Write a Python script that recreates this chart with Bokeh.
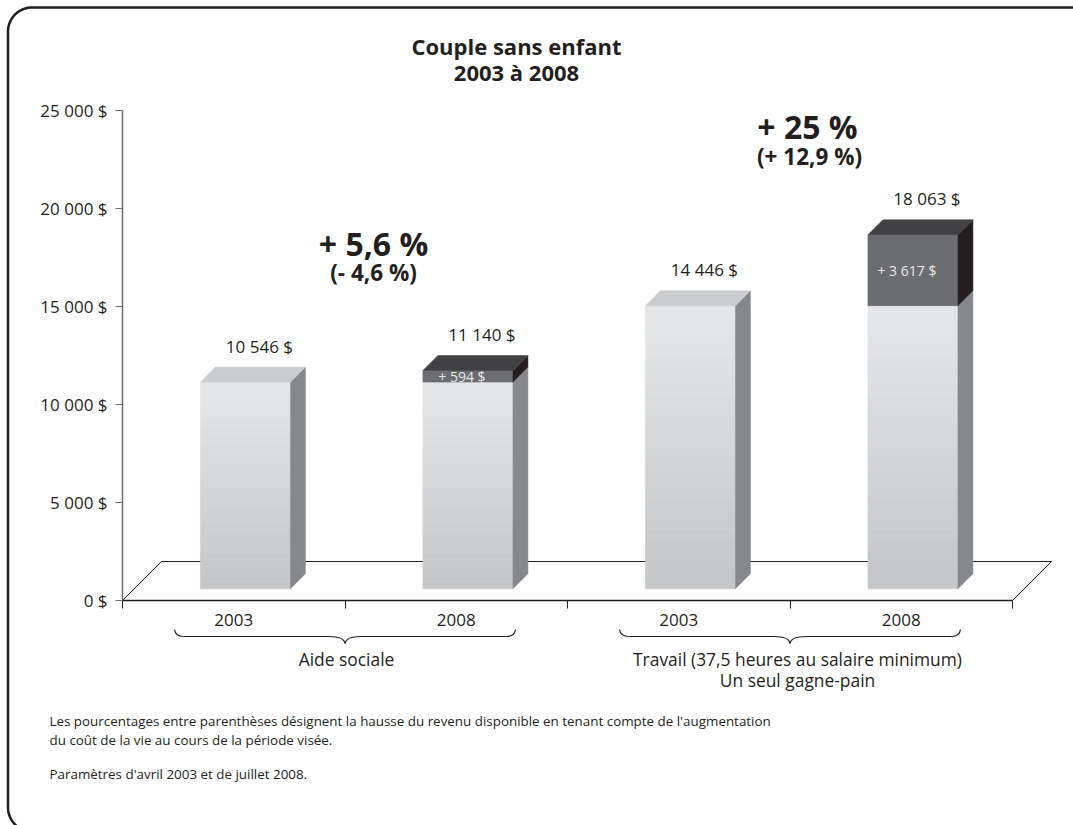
import numpy as np
from bokeh.plotting import figure
from bokeh.models import Range1d, LinearAxis, FixedTicker, ColumnDataSource
from bokeh.core.properties import value
from bokeh.embed import file_html
from bokeh.resources import INLINE

# ---------------- data ----------------
years = ["2003", "2008", "2003", "2008"]
base_income = [10546, 10546, 14446, 14446]
increase = [0, 594, 0, 3617]
total_labels = ["10 546 $", "11 140 $", "14 446 $", "18 063 $"]
increase_labels = ["", "+ 594 $", "", "+ 3 617 $"]
groups = ["Aide sociale", "Travail (37,5 heures au salaire minimum)"]
group_sub = ["", "Un seul gagne-pain"]
pct_nominal = ["+ 5,6 %", "+ 25 %"]
pct_real = ["(- 4,6 %)", "(+ 12,9 %)"]
y_ticks = [0, 5000, 10000, 15000, 20000, 25000]
y_tick_labels = ["0 $", "5 000 $", "10 000 $", "15 000 $", "20 000 $", "25 000 $"]
title_lines = ["Couple sans enfant", "2003 à 2008"]
notes = [
    "Les pourcentages entre parenthèses désignent la hausse du revenu disponible en tenant compte de l'augmentation",
    "du coût de la vie au cours de la période visée.",
    "Paramètres d'avril 2003 et de juillet 2008.",
]

# ---------------- layout helpers (pixels <-> data) ----------------
W, H = 1073, 825
SX, X0 = 222.5, 233.25      # px per category, px of category 0
SY, Y0 = 0.0196, 600.0      # px per dollar, px of 0 $
px2x = lambda px: (px - X0) / SX
px2y = lambda py: (Y0 - py) / SY
dxu = lambda d: d / SX
dyu = lambda d: d / SY

FONT = value("Open Sans")
INK = "#231f20"

p = figure(width=W, height=H, x_range=Range1d(px2x(0), px2x(W)),
           y_range=Range1d(px2y(H), px2y(0)), output_backend="svg",
           toolbar_location=None, min_border=0, x_axis_location=None,
           y_axis_location=None, title=None)
p.outline_line_color = None
p.background_fill_color = "white"
p.border_fill_color = "white"
p.xgrid.visible = False
p.ygrid.visible = False

# ---------------- rounded frame ----------------
R0, FL, FT, FB = 24, 7.5, 7.0, 831.0
ang1 = np.linspace(np.pi, 1.5 * np.pi, 20)
ang2 = np.linspace(0.5 * np.pi, np.pi, 20)[::-1]
fx = [1090] + list(FL + R0 + R0 * np.cos(ang1))[::-1] + list(FL + R0 + R0 * np.cos(ang2)) + [1090]
fy = [FT] + list(FT + R0 + R0 * np.sin(ang1))[::-1] + list(FB - R0 + R0 * np.sin(ang2)) + [FB]
p.line([px2x(v) for v in fx], [px2y(v) for v in fy], line_color=INK, line_width=2.5)

# ---------------- floor ----------------
FD = 39  # floor depth px
p.patch([-0.5, 3.5, 3.5 + dxu(FD), -0.5 + dxu(FD)], [0, 0, dyu(FD), dyu(FD)],
        fill_color="white", line_color=INK, line_width=1)

# ---------------- 3D bars ----------------
OFF = 11.7   # bar front depth offset px
BD = 15      # bar depth px
HALF = 45    # half bar width px

def lerp(c1, c2, t):
    a = [int(c1[i:i + 2], 16) for i in (1, 3, 5)]
    b = [int(c2[i:i + 2], 16) for i in (1, 3, 5)]
    return "#%02x%02x%02x" % tuple(round(a[k] + (b[k] - a[k]) * t) for k in range(3))

q = dict(left=[], right=[], bottom=[], top=[], color=[])
poly = dict(xs=[], ys=[], color=[])
NS = 28
for i in range(4):
    L = i + dxu(OFF - HALF)
    R = i + dxu(OFF + HALF)
    off = dyu(OFF)
    segs = [(0, base_income[i], "light")]
    if increase[i] > 0:
        segs.append((base_income[i], base_income[i] + increase[i], "dark"))
    for k, (lo, hi, kind) in enumerate(segs):
        b, t = lo + off, hi + off
        if kind == "light":
            edges = np.linspace(b, t, NS + 1)
            for s in range(NS):
                q["left"].append(L); q["right"].append(R)
                q["bottom"].append(edges[s]); q["top"].append(edges[s + 1])
                q["color"].append(lerp("#c4c5c7", "#e6e7e9", (s + 0.5) / NS))
            side_c, top_c = "#87888c", "#cbccce"
        else:
            q["left"].append(L); q["right"].append(R)
            q["bottom"].append(b); q["top"].append(t)
            q["color"].append("#6c6d70")
            side_c, top_c = INK, "#414143"
        poly["xs"].append([R, R + dxu(BD), R + dxu(BD), R])
        poly["ys"].append([b, b + dyu(BD), t + dyu(BD), t])
        poly["color"].append(side_c)
        if k == len(segs) - 1:
            poly["xs"].append([L, R, R + dxu(BD), L + dxu(BD)])
            poly["ys"].append([t, t, t + dyu(BD), t + dyu(BD)])
            poly["color"].append(top_c)

p.quad(left="left", right="right", bottom="bottom", top="top", source=ColumnDataSource(q),
       fill_color="color", line_color="color", line_width=0.6)
p.patches(xs="xs", ys="ys", source=ColumnDataSource(poly), fill_color="color",
          line_color="color", line_width=0.5)

# ---------------- value labels ----------------
totals = [b + d for b, d in zip(base_income, increase)]
lab_x = [i + dxu(OFF + 14) for i in range(4)]
lab_y = [v + dyu(OFF + BD + 21) for v in totals]
p.text(x=lab_x, y=lab_y, text=total_labels, text_font=FONT, text_font_size="17px",
       text_color=INK, text_align="center", text_baseline="middle")

inc_x = [i + dxu(OFF - 6) for i in range(4) if increase[i] > 0]
inc_y = [base_income[i] + increase[i] / 2 + dyu(OFF) for i in range(4) if increase[i] > 0]
inc_t = [increase_labels[i] for i in range(4) if increase[i] > 0]
p.text(x=inc_x, y=inc_y, text=inc_t, text_font=FONT, text_font_size="14px",
       text_color="#e8e8e8", text_align="center", text_baseline="middle")

# ---------------- axes ----------------
yaxis = LinearAxis(fixed_location=-0.5, bounds=(0, 25000), ticker=FixedTicker(ticks=y_ticks),
                   major_label_overrides=dict(zip(y_ticks, y_tick_labels)))
yaxis.axis_line_color = "#6d6e71"
yaxis.axis_line_width = 1.5
yaxis.major_tick_line_color = "#6d6e71"
yaxis.major_tick_line_width = 1.2
yaxis.major_tick_out = 7
yaxis.major_tick_in = 0
yaxis.minor_tick_out = 0
yaxis.minor_tick_in = 0
yaxis.major_label_standoff = 8
yaxis.major_label_text_font = "Open Sans"
yaxis.major_label_text_font_size = "17px"
yaxis.major_label_text_color = INK
p.add_layout(yaxis, "left")

xaxis = LinearAxis(fixed_location=0, bounds=(-0.5, 3.5),
                   ticker=FixedTicker(ticks=[0, 1, 2, 3], minor_ticks=[-0.5, 0.5, 1.5, 2.5, 3.5]),
                   major_label_overrides=dict(zip([0, 1, 2, 3], years)))
xaxis.axis_line_color = INK
xaxis.axis_line_width = 1.5
xaxis.major_tick_out = 0
xaxis.major_tick_in = 0
xaxis.minor_tick_out = 8
xaxis.minor_tick_in = 0
xaxis.minor_tick_line_color = INK
xaxis.minor_tick_line_width = 1
xaxis.major_label_standoff = 5
xaxis.major_label_text_font = "Open Sans"
xaxis.major_label_text_font_size = "17px"
xaxis.major_label_text_color = INK
p.add_layout(xaxis, "below")

# ---------------- braces ----------------
gc = [0.5, 2.5]
hw = dxu(170.5)
yt, yh, yc = px2y(629), px2y(636), px2y(643)
for c in gc:
    x0, x1 = c - hw, c + hw
    p.quadratic(x0=[x0, x1, c - dxu(16), c + dxu(16)], y0=[yt, yt, yh, yh],
                x1=[x0 + dxu(9), x1 - dxu(9), c, c], y1=[yh, yh, yc, yc],
                cx=[x0 + dxu(1), x1 - dxu(1), c - dxu(1), c + dxu(1)], cy=[yh, yh, yh, yh],
                line_color=INK, line_width=1.2)
    p.segment(x0=[x0 + dxu(9), c + dxu(16)], y0=[yh, yh], x1=[c - dxu(16), x1 - dxu(9)],
              y1=[yh, yh], line_color=INK, line_width=1.2)

# group labels
p.text(x=[px2x(346), px2x(797)], y=[px2y(658), px2y(658)], text=groups, text_font=FONT,
       text_font_size="17.4px", text_color=INK, text_align="center", text_baseline="middle")
p.text(x=[px2x(797)], y=[px2y(679)], text=[group_sub[1]], text_font=FONT,
       text_font_size="17.4px", text_color=INK, text_align="center", text_baseline="middle")

# ---------------- title & percentages ----------------
p.text(x=[px2x(516), px2x(516)], y=[px2y(45), px2y(71)], text=title_lines, text_font=FONT,
       text_font_size="22px", text_font_style="bold", text_color=INK,
       text_align="center", text_baseline="middle")
p.text(x=[px2x(373), px2x(807)], y=[px2y(243), px2y(126)], text=pct_nominal, text_font=FONT,
       text_font_size="32px", text_font_style="bold", text_color=INK,
       text_align="center", text_baseline="middle")
p.text(x=[px2x(373), px2x(809)], y=[px2y(272), px2y(156)], text=pct_real, text_font=FONT,
       text_font_size="22.5px", text_font_style="bold", text_color=INK,
       text_align="center", text_baseline="middle")

# ---------------- notes ----------------
p.text(x=[px2x(49)] * 3, y=[px2y(720), px2y(739), px2y(773)], text=notes, text_font=FONT,
       text_font_size="13.4px", text_color=INK, text_align="left", text_baseline="middle")

open("out.html", "w").write(file_html(p, INLINE))
